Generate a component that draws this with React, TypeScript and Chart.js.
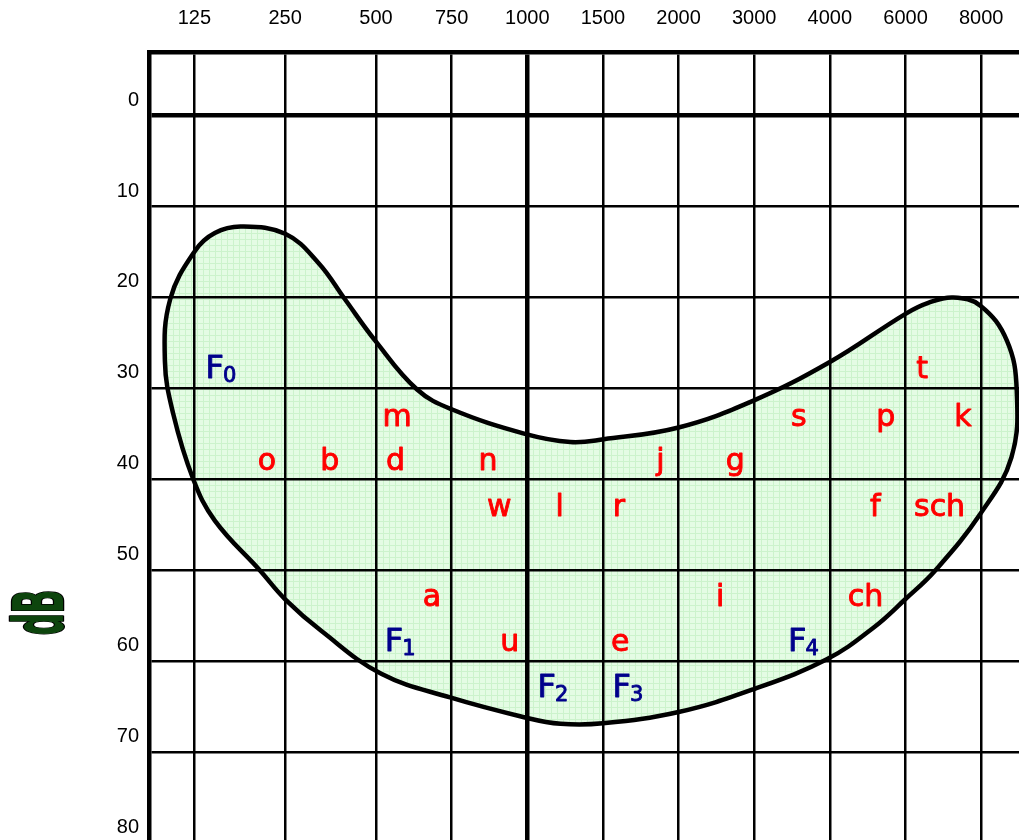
import React, { useEffect, useRef } from 'react';
import { Chart, registerables } from 'chart.js';

Chart.register(...registerables);

// Frequency axis (top): labels and their positions on the chart's horizontal scale
const FREQ_LABELS = ['125', '250', '500', '750', '1000', '1500', '2000', '3000', '4000', '6000', '8000'];
const FREQ_POS = [0.6, 1.8, 3, 4, 5, 6, 7, 8, 9, 10, 11];
const DB_TICKS = [0, 10, 20, 30, 40, 50, 60, 70, 80];

// Outline of the "speech banana" (x on the frequency position scale, y in dB)
const BANANA_X = [1.22, 1.8, 2.24, 2.59, 2.99, 3.54, 4.0, 4.97, 5.57, 6.01, 7.0, 7.99, 9.0, 10.0, 10.3, 10.63, 10.99, 11.34, 11.47, 11.4, 10.99, 10.39, 10.0, 9.58, 8.96, 7.99, 7.0, 6.0, 5.44, 4.97, 3.98, 3.07, 2.28, 1.8, 1.47, 0.87, 0.585, 0.32, 0.21, 0.28, 0.61, 0.87];
const BANANA_DB = [12.2, 13.0, 16.2, 20.2, 24.75, 30.1, 32.3, 35.0, 35.9, 35.6, 34.3, 31.35, 27.1, 21.8, 20.6, 20.0, 20.9, 24.75, 30.25, 37.6, 43.8, 50.06, 53.17, 56.3, 59.8, 63.1, 65.6, 66.85, 66.9, 66.2, 64.0, 61.4, 56.7, 53.2, 50.06, 44.55, 40.0, 32.8, 27.0, 20.2, 14.85, 12.9];

// Speech sounds (text, x position, baseline dB)
const SOUND_TEXT = ['m', 's', 'p', 'k', 't', 'o', 'b', 'd', 'n', 'j', 'g', 'w', 'l', 'r', 'f', 'sch', 'a', 'i', 'ch', 'u', 'e'];
const SOUND_X = [3.28, 8.59, 9.74, 10.76, 10.22, 1.56, 2.39, 3.26, 4.48, 6.76, 7.75, 4.63, 5.43, 6.21, 9.6, 10.45, 3.74, 7.55, 9.47, 4.77, 6.23];
const SOUND_DB = [34.1, 34.1, 34.1, 34.1, 28.9, 39.0, 39.0, 39.0, 39.0, 39.0, 39.0, 44.0, 44.0, 44.0, 44.0, 44.0, 53.9, 53.9, 53.9, 58.9, 58.9];

// Formants F0..F4 (subscript, centre x position, baseline dB)
const FORMANT_SUB = ['0', '1', '2', '3', '4'];
const FORMANT_X = [0.95, 3.32, 5.34, 6.33, 8.65];
const FORMANT_DB = [28.9, 58.9, 64.0, 64.0, 58.9];

const FONT = '"DejaVu Sans", Verdana, sans-serif';
const TICK_FONT = '"Liberation Sans", Arial, sans-serif';

const drawHeavyText = (ctx: any, t: string, x: number, y: number) => {
  ctx.strokeText(t, x, y);
  ctx.fillText(t, x, y);
};

const labelsPlugin = {
  id: 'bananaLabels',
  afterDraw(chart: any) {
    const { ctx } = chart;
    const xs = chart.scales.x;
    const ys = chart.scales.y;
    ctx.save();
    ctx.lineJoin = 'round';
    ctx.lineWidth = 0.9;
    ctx.fillStyle = '#ff0000';
    ctx.strokeStyle = '#ff0000';
    ctx.font = `30px ${FONT}`;
    ctx.textAlign = 'center';
    ctx.textBaseline = 'alphabetic';
    SOUND_TEXT.forEach((t, i) => {
      drawHeavyText(ctx, t, xs.getPixelForValue(SOUND_X[i]), ys.getPixelForValue(SOUND_DB[i]));
    });

    ctx.fillStyle = '#00008b';
    ctx.strokeStyle = '#00008b';
    ctx.textAlign = 'left';
    FORMANT_SUB.forEach((s, i) => {
      const cx = xs.getPixelForValue(FORMANT_X[i]);
      const by = ys.getPixelForValue(FORMANT_DB[i]);
      ctx.font = `32px ${FONT}`;
      const wF = ctx.measureText('F').width;
      ctx.font = `21px ${FONT}`;
      const wS = ctx.measureText(s).width;
      const gap = -1;
      const left = cx - (wF + gap + wS) / 2;
      ctx.font = `32px ${FONT}`;
      drawHeavyText(ctx, 'F', left, by);
      ctx.font = `21px ${FONT}`;
      drawHeavyText(ctx, s, left + wF + gap, by + 3.5);
    });

    // axis title "dB" (rotated, condensed)
    ctx.translate(63, 612.5);
    ctx.rotate(-Math.PI / 2);
    ctx.scale(0.44, 1);
    ctx.font = `bold 70px ${FONT}`;
    ctx.textAlign = 'center';
    ctx.lineWidth = 2.5;
    ctx.strokeStyle = '#000000';
    ctx.fillStyle = '#0d450d';
    ctx.strokeText('dB', 0, 0);
    ctx.fillText('dB', 0, 0);
    ctx.restore();
  },
};

const noPadding = (s: any) => {
  s.paddingLeft = 0;
  s.paddingRight = 0;
  s.paddingTop = 0;
  s.paddingBottom = 0;
};

export default function App() {
  const ref = useRef<HTMLCanvasElement | null>(null);

  useEffect(() => {
    const canvas = ref.current;
    if (!canvas) return;
    const ctx = canvas.getContext('2d');
    if (!ctx) return;

    const pc = document.createElement('canvas');
    pc.width = 6;
    pc.height = 6;
    const p = pc.getContext('2d')!;
    p.fillStyle = '#e4fce4';
    p.fillRect(0, 0, 6, 6);
    p.fillStyle = '#ccf3cc';
    p.fillRect(5, 0, 1, 6);
    p.fillRect(0, 5, 6, 1);
    const pattern = ctx.createPattern(pc, 'repeat');

    const pts = BANANA_X.map((x, i) => ({ x, y: BANANA_DB[i] }));
    const n = pts.length;
    const loop = [pts[n - 1], ...pts, pts[0], pts[1]];
    const lastIdx = loop.length - 1;

    const chart = new Chart(ctx, {
      type: 'scatter',
      data: {
        datasets: [
          {
            data: loop,
            showLine: true,
            fill: 'shape',
            tension: 0.4,
            borderColor: '#000000',
            borderWidth: 4.5,
            backgroundColor: pattern as any,
            pointRadius: 0,
            pointHoverRadius: 0,
            segment: {
              borderColor: (c: any) =>
                c.p0DataIndex === 0 || c.p1DataIndex === lastIdx ? 'rgba(0,0,0,0)' : undefined,
            },
          } as any,
        ],
      },
      options: {
        responsive: false,
        animation: false,
        events: [],
        layout: { padding: 0 },
        plugins: {
          legend: { display: false },
          tooltip: { enabled: false },
          title: { display: false },
        },
        scales: {
          x: {
            type: 'linear',
            position: 'top',
            min: 0,
            max: 11.5,
            afterBuildTicks: (s: any) => {
              s.ticks = FREQ_POS.map((v) => ({ value: v }));
            },
            afterFit: (s: any) => {
              s.height = 52;
              noPadding(s);
            },
            grid: {
              color: '#000000',
              lineWidth: (c: any) => (c.tick && c.tick.value === 5 ? 4.5 : 2.5),
              drawTicks: false,
              z: 1,
            },
            border: { display: true, color: '#000000', width: 4.5, z: 1 },
            ticks: {
              autoSkip: false,
              maxRotation: 0,
              padding: 22,
              color: '#000000',
              font: { family: TICK_FONT, size: 20 },
              callback: (_v: any, i: number) => FREQ_LABELS[i],
            },
          },
          y: {
            type: 'linear',
            reverse: true,
            min: -7,
            max: 81,
            afterBuildTicks: (s: any) => {
              s.ticks = DB_TICKS.map((v) => ({ value: v }));
            },
            afterFit: (s: any) => {
              s.width = 149;
              noPadding(s);
            },
            grid: {
              color: '#000000',
              lineWidth: (c: any) => (c.tick && c.tick.value === 0 ? 4.5 : 2.5),
              drawTicks: false,
              z: 1,
            },
            border: { display: true, color: '#000000', width: 4.5, z: 1 },
            ticks: {
              autoSkip: false,
              padding: 10,
              labelOffset: -15.5,
              color: '#000000',
              font: { family: TICK_FONT, size: 20 },
            },
          },
        },
      },
      plugins: [labelsPlugin],
    });

    return () => chart.destroy();
  }, []);

  return (
    <div
      style={{
        position: 'fixed',
        left: 0,
        top: 0,
        width: 1019,
        height: 840,
        overflow: 'hidden',
        background: '#ffffff',
      }}
    >
      <canvas ref={ref} width={1019} height={852} style={{ display: 'block', width: 1019, height: 852 }} />
    </div>
  );
}
